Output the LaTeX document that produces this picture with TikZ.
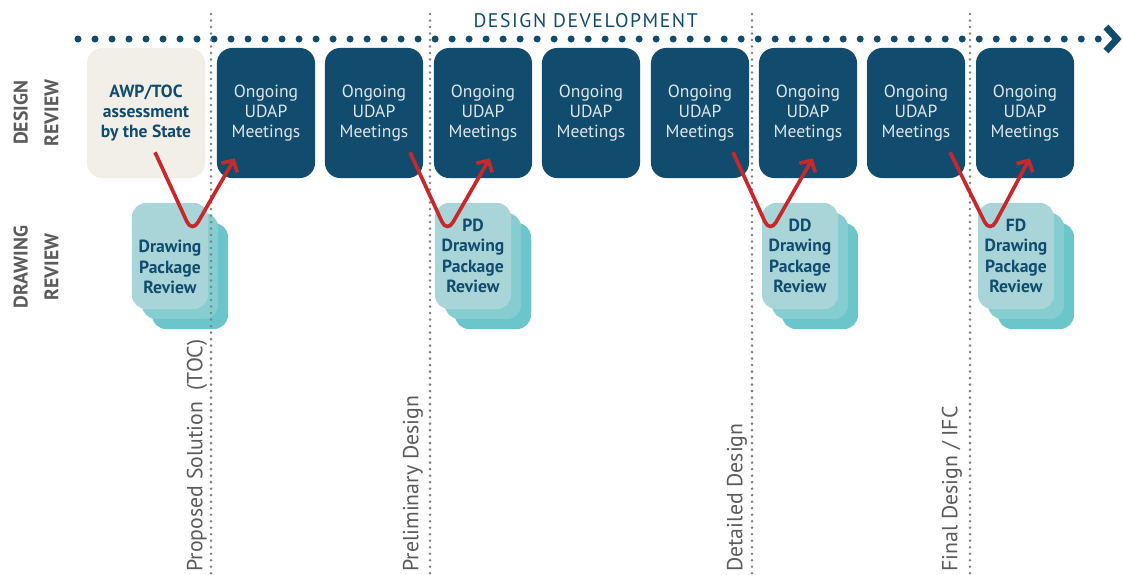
\documentclass[tikz,border=0pt]{standalone}
\usepackage{fontspec}
\setmainfont{PT Sans}
\newfontfamily\trackedfont[LetterSpace=8]{PT Sans}
\usetikzlibrary{arrows.meta,positioning,shadows}
\usepackage{xcolor}

\definecolor{navy}{HTML}{114B6D}
\definecolor{sand}{HTML}{F2EFE8}
\definecolor{cardfront}{HTML}{A9D5D9}
\definecolor{cardmid}{HTML}{86CDD1}
\definecolor{cardback}{HTML}{6CC5CA}
\definecolor{lanegray}{HTML}{5B5B5B}
\definecolor{dotgray}{HTML}{808080}
\definecolor{paletext}{HTML}{DDE6EB}
\definecolor{loopred}{HTML}{C8282B}

\begin{document}
\begin{tikzpicture}[x=0.025cm, y=-0.025cm,
    every node/.style={
        align=center,
        inner sep=0pt,
        font=\fontsize{12.5}{14.5}\selectfont
    },
    udap/.style={
        rectangle,
        rounded corners=0.38cm,
        fill=navy,
        text=paletext,
        minimum width=2.45cm,
        minimum height=3.25cm
    },
    awp/.style={udap, fill=sand, text=navy, font=\fontsize{12.5}{14.5}\selectfont\bfseries, minimum width=2.95cm},
    dpr/.style={
        rectangle,
        rounded corners=0.35cm,
        fill=cardfront,
        text=navy,
        font=\fontsize{12.5}{14.5}\selectfont\bfseries,
        minimum width=1.9cm,
        minimum height=2.65cm,
        copy shadow={shadow xshift=0.5cm, shadow yshift=-0.5cm, fill=cardback, draw=none},
        copy shadow={shadow xshift=0.25cm, shadow yshift=-0.25cm, fill=cardmid, draw=none}
    },
    lane/.style={rotate=90, text=lanegray, font=\fontsize{14}{22}\selectfont\bfseries},
    phase/.style={rotate=90, anchor=west, text=lanegray, font=\fontsize{15.5}{18}\selectfont},
    phase line/.style={dotgray, line width=0.07cm, line cap=round, dash pattern=on 0pt off 0.1625cm},
    timeline/.style={navy, line width=0.175cm, line cap=round, dash pattern=on 0pt off 0.425cm},
    review loop/.style={->, loopred, line width=2.6pt, rounded corners=0.3cm},
    >={Straight Barb[length=6pt, width=13pt]}
]
    \useasboundingbox (0, 0) rectangle (1123, 574);

    % timeline along the top
    \node (design_development) [shift={(589, 21)}, text=navy, font=\fontsize{14}{16}\selectfont\trackedfont]
    {
        DESIGN DEVELOPMENT
    };
    \coordinate (timeline_start) at (78, 39);
    \coordinate (timeline_end) at (1102, 39);
    \draw[timeline] (timeline_start) -- (timeline_end);
    \draw[navy, line width=0.17cm, line join=miter] ([shift={(4, -12)}]timeline_end) -- ([shift={(15, 0)}]timeline_end) -- ([shift={(4, 12)}]timeline_end);



    \node (lane_design) [shift={(36, 113)}, lane]
    {
        DESIGN\\
        REVIEW
    };
    \node (lane_drawing) [shift={(36, 267)}, lane]
    {
        DRAWING\\
        REVIEW
    };



    \node (awp_toc) [awp, shift={(146, 113)}]
    {
        AWP/TOC\\
        assessment\\
        by the State
    };
    \node (udap_1) [udap, shift={(266, 113)}]
    {
        Ongoing\\
        UDAP\\
        Meetings
    };
    \node (udap_2) [udap, shift={(374, 113)}]
    {
        Ongoing\\
        UDAP\\
        Meetings
    };
    \node (udap_3) [udap, shift={(483, 113)}]
    {
        Ongoing\\
        UDAP\\
        Meetings
    };
    \node (udap_4) [udap, shift={(591, 113)}]
    {
        Ongoing\\
        UDAP\\
        Meetings
    };
    \node (udap_5) [udap, shift={(700, 113)}]
    {
        Ongoing\\
        UDAP\\
        Meetings
    };
    \node (udap_6) [udap, shift={(808, 113)}]
    {
        Ongoing\\
        UDAP\\
        Meetings
    };
    \node (udap_7) [udap, shift={(916, 113)}]
    {
        Ongoing\\
        UDAP\\
        Meetings
    };
    \node (udap_8) [udap, shift={(1025, 113)}]
    {
        Ongoing\\
        UDAP\\
        Meetings
    };



    \node (dpr_toc) [dpr, shift={(170, 256)}]
    {
        \strut\\
        Drawing\\
        Package\\
        Review
    };
    \node (dpr_pd) [dpr, shift={(473, 256)}]
    {
        PD\\
        Drawing\\
        Package\\
        Review
    };
    \node (dpr_dd) [dpr, shift={(800, 256)}]
    {
        DD\\
        Drawing\\
        Package\\
        Review
    };
    \node (dpr_fd) [dpr, shift={(1016, 256)}]
    {
        FD\\
        Drawing\\
        Package\\
        Review
    };



    % phase boundaries
    \draw[phase line] (211, 14) -- (211, 574);
    \draw[phase line] (430, 14) -- (430, 574);
    \draw[phase line] (752, 14) -- (752, 574);
    \draw[phase line] (970, 14) -- (970, 574);

    \node (phase_toc) [shift={(197, 572)}, phase] {Proposed Solution\ \ (TOC)};
    \node (phase_pd) [shift={(413, 572)}, phase] {Preliminary Design};
    \node (phase_dd) [shift={(737, 572)}, phase] {Detailed Design};
    \node (phase_fd) [shift={(952, 572)}, phase] {Final Design / IFC};



    \draw[review loop] ([xshift=0.225cm, yshift=0.65cm]awp_toc.south) -- ([xshift=0.55cm, yshift=-0.75cm]dpr_toc.north) -- ([xshift=0.45cm, yshift=0.5cm]udap_1.south west);
    \draw[review loop] ([xshift=0.9cm, yshift=0.65cm]udap_2.south) -- ([xshift=-0.65cm, yshift=-0.75cm]dpr_pd.north) -- ([xshift=1.4cm, yshift=0.5cm]udap_3.south west);
    \draw[review loop] ([xshift=0.825cm, yshift=0.65cm]udap_5.south) -- ([xshift=-0.75cm, yshift=-0.75cm]dpr_dd.north) -- ([xshift=1.35cm, yshift=0.5cm]udap_6.south west);
    \draw[review loop] ([xshift=0.85cm, yshift=0.65cm]udap_7.south) -- ([xshift=-0.65cm, yshift=-0.75cm]dpr_fd.north) -- ([xshift=1.35cm, yshift=0.5cm]udap_8.south west);


\end{tikzpicture}
\end{document}
